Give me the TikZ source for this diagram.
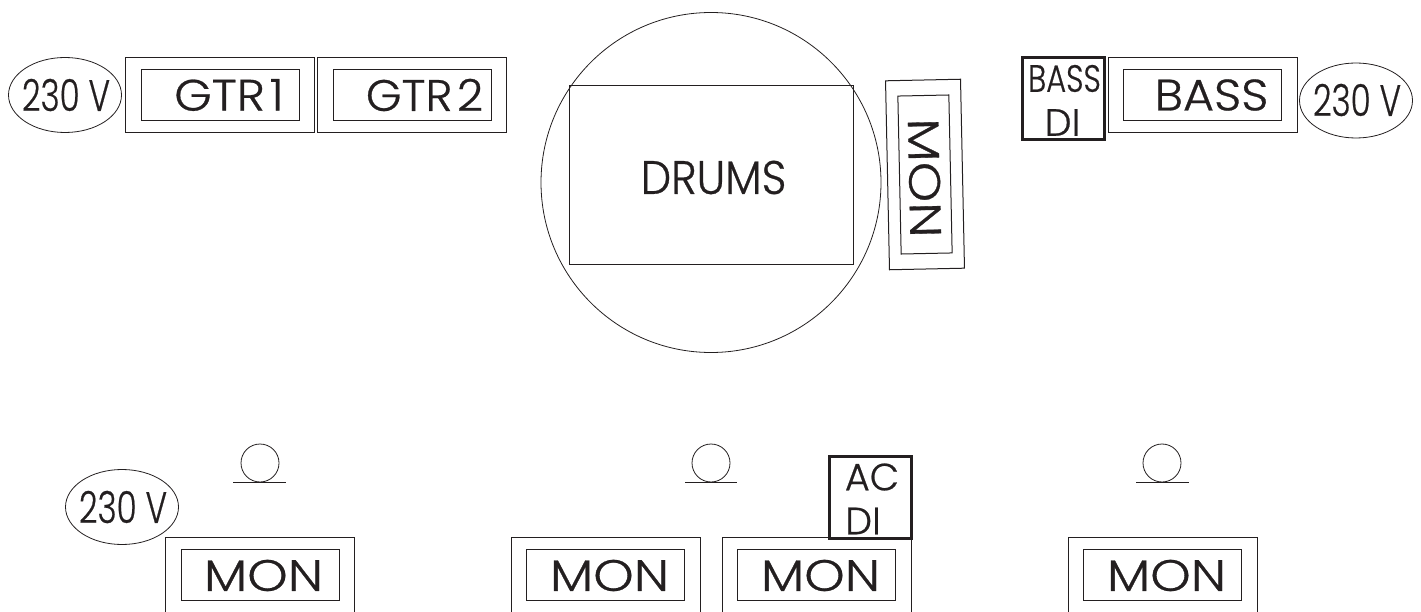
\documentclass[tikz,border=0pt]{standalone}
\usepackage{fontspec}
\setmainfont{Poppins}[UprightFont=* Light,UprightFeatures={FakeBold=0.6}]
\usetikzlibrary{shapes.geometric}
\definecolor{ink}{HTML}{231F20}
\tikzset{
  x=1pt,y=-1pt,
  box/.style={draw=ink,line width=1pt,rectangle,inner sep=0pt,minimum width=#1},
  outerbox/.style={box=189pt,minimum height=75pt},
  innerbox/.style={box=158pt,minimum height=51pt},
  dibox/.style={draw=ink,line width=3pt,rectangle,inner sep=0pt,minimum width=82pt,minimum height=82pt},
  volt/.style={draw=ink,line width=.8pt,ellipse,inner sep=0pt,minimum width=113pt,minimum height=75pt},
  txt/.style={text=ink,inner sep=0pt,font=\fontsize{44}{44}\selectfont},
  cond/.style={txt,xscale=.74},
  smalltxt/.style={text=ink,inner sep=0pt,font=\fontsize{38}{38}\selectfont},
  mic/.style={draw=ink,line width=.8pt,circle,inner sep=0pt,minimum size=38pt},
  micline/.style={draw=ink,line width=1pt},
  drumcircle/.style={draw=ink,line width=.8pt,circle,inner sep=0pt,minimum size=340pt},
  wide/.style={txt,xscale=1.17},
}
\begin{document}
\begin{tikzpicture}
\useasboundingbox (0,0) rectangle (1421,612);
\clip (0,0) rectangle (1421,612);
% drums
\node[drumcircle] (kit) at (711,182.5) {};
\node[box=284pt,minimum height=179pt] (drums) at (711,175) {};
\node[txt,font=\fontsize{47}{47}\selectfont,xscale=.92] (drumst) at (713.5,177.5) {DRUMS};
% left backline
\node[volt] (v1) at (65,95) {};
\node[cond] (v1t) at (66,95) {230 V};
\node[outerbox] (g1o) at (220,95.5) {};
\node[innerbox] (g1i) at (220,95.5) {};
\node[txt,xscale=1.09] (g1t) at (229,95) {GTR\hspace{.1em}1};
\node[outerbox] (g2o) at (412,95.5) {};
\node[innerbox] (g2i) at (412,95.5) {};
\node[txt,xscale=1.04] (g2t) at (424.5,95) {GTR\hspace{.1em}2};
% drum monitor
\node[outerbox,rotate=-88.8] (dmo) at (925,174.5) {};
\node[innerbox,rotate=-88.8] (dmi) at (925,174.5) {};
\node[txt,rotate=-88.8,xscale=1.17] (dmt) at (924.5,178) {MON};
% bass
\node[outerbox] (bo) at (1202.5,95.5) {};
\node[innerbox] (bi) at (1202.5,95.5) {};
\node[txt,xscale=1.08] (bt) at (1211.5,95) {BASS};
\node[dibox] (bd) at (1063,99) {};
\node[smalltxt,xscale=.8] (bdt1) at (1064.5,78.5) {BASS};
\node[smalltxt] (bdt2) at (1062.5,122.5) {DI};
\node[volt] (v2) at (1356,100.5) {};
\node[cond] (v2t) at (1357,100) {230 V};
% front line
\node[volt] (v3) at (122,507) {};
\node[cond] (v3t) at (123,507) {230 V};
\node[mic] (m1) at (260,463) {};
\coordinate (m1l) at (233,482);
\coordinate (m1r) at (286,482);
\draw[micline] (m1l) -- (m1r);
\node[outerbox,minimum height=77pt] (f1o) at (259.5,575.5) {};
\node[innerbox] (f1i) at (260,575) {};
\node[wide] (f1t) at (263.5,575.5) {MON};
\node[mic] (m2) at (711,463) {};
\coordinate (m2l) at (685,482);
\coordinate (m2r) at (737,482);
\draw[micline] (m2l) -- (m2r);
\node[outerbox,minimum height=77pt] (f2o) at (605.5,575.5) {};
\node[innerbox] (f2i) at (605,575) {};
\node[wide] (f2t) at (609.5,575.5) {MON};
\node[outerbox,minimum height=77pt] (f3o) at (816.5,575.5) {};
\node[innerbox] (f3i) at (816,575) {};
\node[wide] (f3t) at (820.5,575.5) {MON};
\node[dibox] (ad) at (870,497) {};
\node[smalltxt] (adt1) at (872,477) {AC};
\node[smalltxt] (adt2) at (863,521) {DI};
\node[mic] (m3) at (1162,463) {};
\coordinate (m3l) at (1136,482);
\coordinate (m3r) at (1189,482);
\draw[micline] (m3l) -- (m3r);
\node[outerbox,minimum height=77pt] (f4o) at (1162.5,575.5) {};
\node[innerbox] (f4i) at (1162,575) {};
\node[wide] (f4t) at (1166.5,575.5) {MON};
\end{tikzpicture}
\end{document}
